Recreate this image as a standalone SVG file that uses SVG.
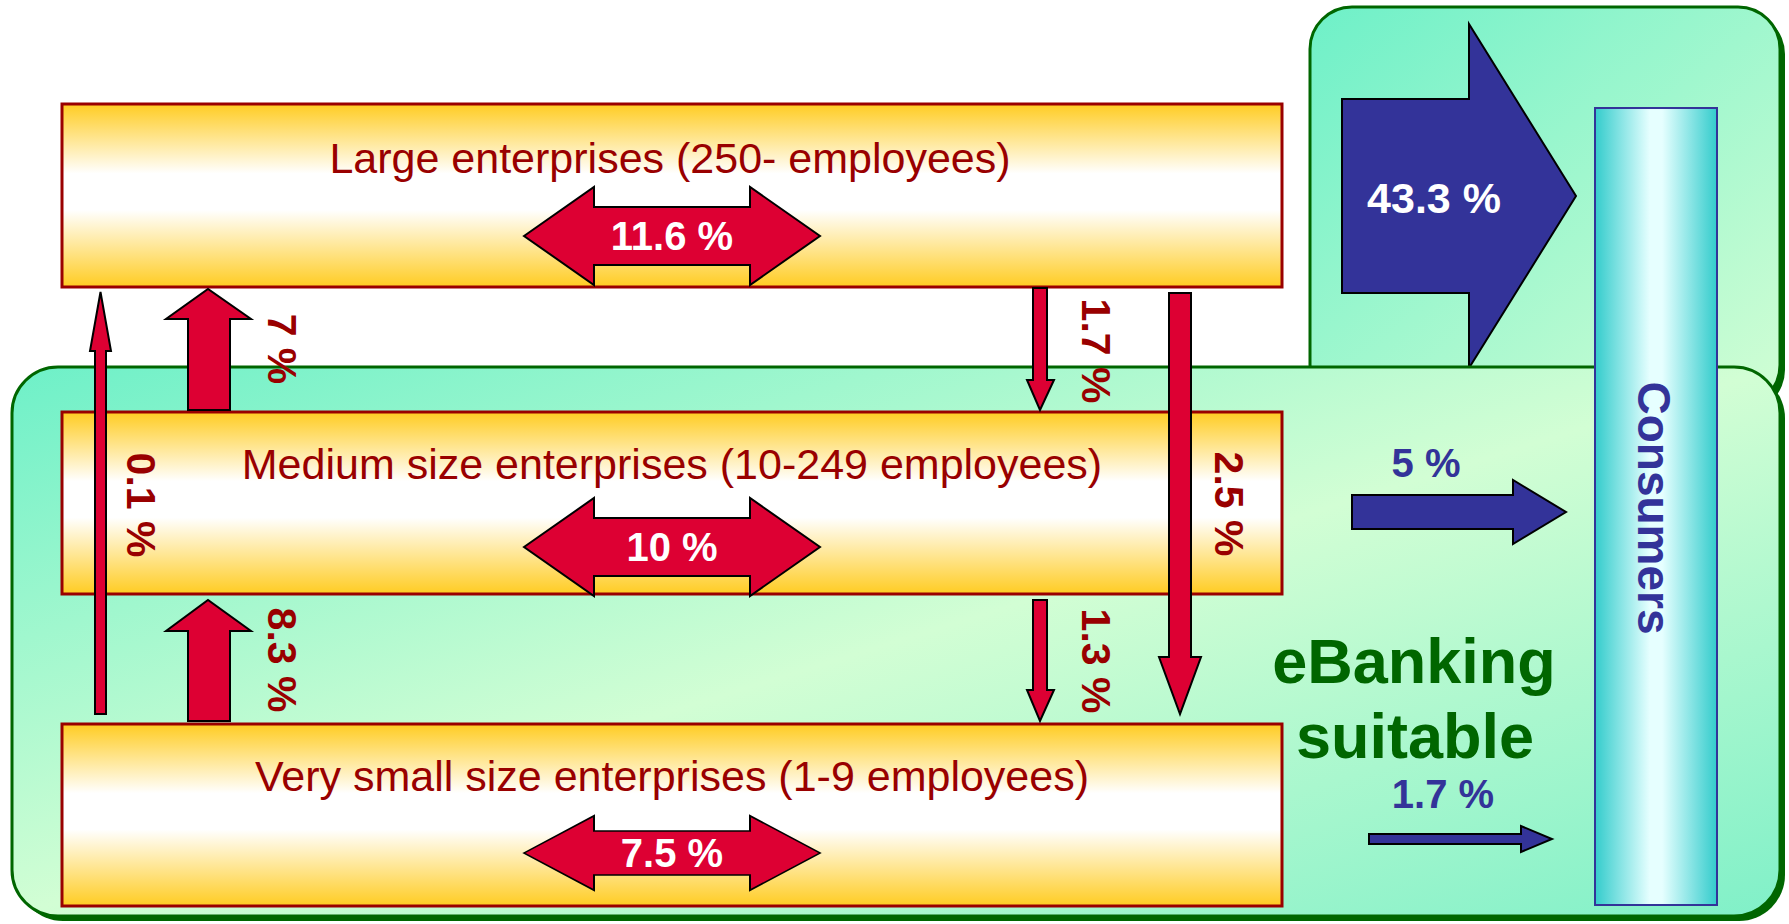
<svg xmlns="http://www.w3.org/2000/svg" xmlns:xlink="http://www.w3.org/1999/xlink" width="1789" height="924" viewBox="0 0 1789 924">
<style>
text{font-family:"Liberation Sans",Arial,sans-serif}
.ent{fill:url(#gold);stroke:#990000;stroke-width:3}
.etxt{font-size:43px;fill:#990000;text-anchor:middle}
.red{fill:#DD0033;stroke:#000;stroke-width:2;stroke-linejoin:miter}
.blue{fill:#333399;stroke:#000;stroke-width:2}
.wl{font-size:40px;font-weight:bold;fill:#fff;text-anchor:middle}
.rl{font-size:41px;font-weight:bold;fill:#990000;text-anchor:middle}
.bl{font-size:40px;font-weight:bold;fill:#333399;text-anchor:middle}
.gbox{stroke:#006600;stroke-width:3}
</style>
<defs>
<linearGradient id="gold" x1="0" y1="0" x2="0" y2="1">
<stop offset="0" stop-color="#FFCC22"/>
<stop offset="0.38" stop-color="#FFFFFF"/>
<stop offset="0.58" stop-color="#FFFFFF"/>
<stop offset="1" stop-color="#FFCC22"/>
</linearGradient>
<linearGradient id="green" x1="0" y1="0" x2="1" y2="1">
<stop offset="0" stop-color="#6EF0C8"/>
<stop offset="0.5" stop-color="#D2FED4"/>
<stop offset="1" stop-color="#80F0C8"/>
</linearGradient>
<linearGradient id="green2" x1="0" y1="0" x2="1" y2="1">
<stop offset="0" stop-color="#6EF0C8"/>
<stop offset="1" stop-color="#D2FED4"/>
</linearGradient>
<linearGradient id="cyan" x1="0" y1="0" x2="1" y2="0">
<stop offset="0" stop-color="#33CCCC"/>
<stop offset="0.45" stop-color="#E6FFFF"/>
<stop offset="0.55" stop-color="#E6FFFF"/>
<stop offset="1" stop-color="#33CCCC"/>
</linearGradient>
<path id="dbl" d="M-148,0 L-78,-49 L-78,-29 L78,-29 L78,-49 L148,0 L78,49 L78,29 L-78,29 L-78,49 Z"/>
</defs>

<g id="consumers-zone">
<rect x="1315" y="12" width="470" height="400" rx="42" fill="#006600"/>
<rect x="1310" y="7" width="470" height="400" rx="42" fill="url(#green2)" class="gbox"/>
</g>
<g id="arrow-43">
<path class="blue" d="M1342,99 L1469,99 L1469,24 L1576,196 L1469,368 L1469,293 L1342,293 Z"/>
<text x="1434" y="213" class="wl" style="font-size:43px">43.3 %</text>
</g>
<g id="ebanking-zone">
<rect x="17" y="372" width="1768" height="549" rx="46" fill="#006600"/>
<rect x="12" y="367" width="1768" height="549" rx="46" fill="url(#green)" class="gbox"/>
<text x="1414" y="683" style="font-size:63px;font-weight:bold;fill:#006600;text-anchor:middle">eBanking</text>
<text x="1415" y="758" style="font-size:63px;font-weight:bold;fill:#006600;text-anchor:middle">suitable</text>
</g>
<g id="consumers">
<rect x="1595" y="108" width="122" height="797" fill="url(#cyan)" stroke="#333399" stroke-width="2"/>
<text transform="translate(1638,508) rotate(90)" class="bl" style="font-size:46px">Consumers</text>
</g>
<g id="large">
<rect x="62" y="104" width="1220" height="183" class="ent"/>
<text x="670" y="173" class="etxt">Large enterprises (250- employees)</text>
<use xlink:href="#dbl" transform="translate(672,236)" class="red"/>
<text x="672" y="250" class="wl">11.6 %</text>
</g>
<g id="medium">
<rect x="62" y="412" width="1220" height="182" class="ent"/>
<text x="672" y="479" class="etxt">Medium size enterprises (10-249 employees)</text>
<use xlink:href="#dbl" transform="translate(672,547)" class="red"/>
<text x="672" y="561" class="wl">10 %</text>
</g>
<g id="small">
<rect x="62" y="724" width="1220" height="182" class="ent"/>
<text x="672" y="791" class="etxt">Very small size enterprises (1-9 employees)</text>
<use xlink:href="#dbl" transform="translate(672,853) scale(1,0.76)" class="red"/>
<text x="672" y="867" class="wl">7.5 %</text>
</g>
<g id="connectors">
<path class="red" d="M95,714 L95,351 L90,351 L100.5,292 L111,351 L106,351 L106,714 Z"/>
<path class="red" d="M188,410 L188,319 L166,319 L208,289 L251,319 L230,319 L230,410 Z"/>
<path class="red" d="M188,721 L188,631 L166,631 L208,600 L251,631 L230,631 L230,721 Z"/>
<path class="red" d="M1033,288 L1047,288 L1047,380 L1054,380 L1040,410 L1027,380 L1033,380 Z"/>
<path class="red" d="M1033,600 L1047,600 L1047,690 L1054,690 L1040,721 L1027,690 L1033,690 Z"/>
<path class="red" d="M1169,293 L1191,293 L1191,657 L1201,657 L1180,714 L1159,657 L1169,657 Z"/>
<path class="blue" d="M1352,495 L1513,495 L1513,480 L1566,512 L1513,544 L1513,529 L1352,529 Z"/>
<path class="blue" d="M1369,834 L1521,834 L1521,826 L1552,839 L1521,852 L1521,844 L1369,844 Z"/>
</g>
<g id="labels">
<text transform="translate(268,349) rotate(90)" class="rl">7 %</text>
<text transform="translate(1082,351) rotate(90)" class="rl">1.7 %</text>
<text transform="translate(127,505) rotate(90)" class="rl">0.1 %</text>
<text transform="translate(1215,504) rotate(90)" class="rl">2.5 %</text>
<text transform="translate(268,660) rotate(90)" class="rl">8.3 %</text>
<text transform="translate(1082,661) rotate(90)" class="rl">1.3 %</text>
<text x="1426" y="477" class="bl">5 %</text>
<text x="1443" y="808" class="bl">1.7 %</text>
</g>
</svg>
